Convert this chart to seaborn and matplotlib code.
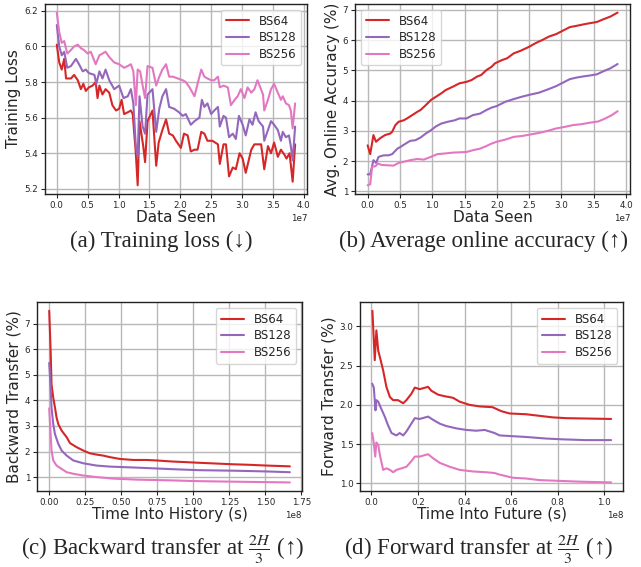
import matplotlib
matplotlib.use("Agg")
import matplotlib.pyplot as plt
from matplotlib.ticker import MultipleLocator
import seaborn as sns
import pandas as pd

# batch sizes and colours
batches = ["BS64", "BS128", "BS256"]
colors = ["#d62728", "#9467bd", "#e377c2"]

# (a) training loss, x in units of 1e7 samples
loss_x_64 = [0.00, 0.04, 0.08, 0.12, 0.15, 0.23, 0.28, 0.34, 0.39, 0.43, 0.47, 0.52, 0.58, 0.63, 0.66,
             0.69, 0.74, 0.79, 0.85, 0.90, 0.96, 1.01, 1.05, 1.09, 1.15, 1.20, 1.23, 1.28, 1.31, 1.34,
             1.40, 1.43, 1.47, 1.55, 1.61, 1.65, 1.71, 1.77, 1.82, 1.88, 1.93, 2.01, 2.06, 2.12, 2.17,
             2.23, 2.28, 2.34, 2.39, 2.44, 2.52, 2.61, 2.64, 2.70, 2.74, 2.79, 2.85, 2.90, 2.96, 3.01,
             3.06, 3.15, 3.20, 3.25, 3.31, 3.36, 3.42, 3.47, 3.52, 3.58, 3.63, 3.69, 3.72, 3.77, 3.82, 3.86]
loss_y_64 = [6.01, 5.91, 5.87, 5.93, 5.82, 5.82, 5.84, 5.81, 5.76, 5.79, 5.75, 5.77, 5.78, 5.80, 5.71,
             5.78, 5.73, 5.76, 5.74, 5.67, 5.64, 5.65, 5.70, 5.62, 5.63, 5.64, 5.62, 5.40, 5.22, 5.58,
             5.44, 5.35, 5.58, 5.64, 5.33, 5.46, 5.53, 5.59, 5.51, 5.50, 5.47, 5.43, 5.51, 5.50, 5.41,
             5.42, 5.42, 5.52, 5.51, 5.47, 5.47, 5.45, 5.34, 5.45, 5.45, 5.27, 5.32, 5.31, 5.40, 5.37,
             5.29, 5.42, 5.45, 5.45, 5.45, 5.31, 5.44, 5.40, 5.46, 5.38, 5.42, 5.39, 5.37, 5.40, 5.24, 5.45]
loss_x_128 = [0.00, 0.04, 0.08, 0.12, 0.17, 0.23, 0.31, 0.36, 0.42, 0.47, 0.52, 0.61, 0.64, 0.69, 0.74,
              0.79, 0.85, 0.93, 1.01, 1.08, 1.15, 1.20, 1.24, 1.28, 1.31, 1.34, 1.39, 1.43, 1.47, 1.55,
              1.61, 1.66, 1.71, 1.77, 1.82, 1.90, 1.98, 2.04, 2.09, 2.17, 2.23, 2.31, 2.35, 2.39, 2.44,
              2.50, 2.55, 2.61, 2.64, 2.70, 2.74, 2.79, 2.85, 2.90, 2.95, 3.01, 3.06, 3.12, 3.17, 3.22,
              3.27, 3.34, 3.36, 3.42, 3.47, 3.52, 3.58, 3.63, 3.66, 3.71, 3.76, 3.79, 3.82, 3.86]
loss_y_128 = [6.12, 6.00, 5.95, 5.97, 5.88, 5.89, 5.93, 5.90, 5.86, 5.87, 5.85, 5.84, 5.79, 5.86, 5.82,
              5.87, 5.81, 5.76, 5.78, 5.71, 5.72, 5.76, 5.68, 5.44, 5.38, 5.72, 5.55, 5.51, 5.73, 5.76,
              5.52, 5.65, 5.72, 5.76, 5.66, 5.65, 5.63, 5.61, 5.62, 5.56, 5.58, 5.60, 5.70, 5.66, 5.68,
              5.62, 5.64, 5.66, 5.55, 5.61, 5.60, 5.49, 5.51, 5.48, 5.61, 5.56, 5.50, 5.59, 5.56, 5.63,
              5.58, 5.55, 5.47, 5.53, 5.58, 5.56, 5.53, 5.47, 5.52, 5.49, 5.50, 5.44, 5.36, 5.55]
loss_x_256 = [0.00, 0.04, 0.08, 0.12, 0.17, 0.23, 0.28, 0.34, 0.39, 0.44, 0.50, 0.55, 0.63, 0.69, 0.74,
              0.79, 0.85, 0.93, 1.01, 1.09, 1.15, 1.20, 1.24, 1.28, 1.31, 1.35, 1.39, 1.43, 1.47, 1.55,
              1.61, 1.66, 1.71, 1.77, 1.82, 1.88, 1.96, 2.04, 2.09, 2.15, 2.23, 2.28, 2.34, 2.39, 2.44,
              2.50, 2.55, 2.61, 2.64, 2.70, 2.77, 2.82, 2.88, 2.93, 2.98, 3.04, 3.09, 3.15, 3.20, 3.25,
              3.34, 3.36, 3.42, 3.47, 3.52, 3.58, 3.63, 3.66, 3.71, 3.76, 3.79, 3.82, 3.86]
loss_y_256 = [6.19, 6.08, 6.02, 6.03, 5.96, 5.98, 6.00, 6.01, 5.99, 5.98, 5.96, 5.97, 5.90, 5.95, 5.96,
              5.97, 5.94, 5.91, 5.90, 5.88, 5.89, 5.90, 5.86, 5.67, 5.87, 5.86, 5.78, 5.71, 5.89, 5.88,
              5.78, 5.83, 5.87, 5.90, 5.83, 5.83, 5.82, 5.81, 5.80, 5.77, 5.72, 5.79, 5.87, 5.83, 5.82,
              5.81, 5.81, 5.83, 5.77, 5.78, 5.77, 5.67, 5.70, 5.72, 5.76, 5.71, 5.77, 5.74, 5.76, 5.81,
              5.73, 5.64, 5.70, 5.76, 5.79, 5.74, 5.70, 5.72, 5.68, 5.67, 5.64, 5.54, 5.68]

# (b) average online accuracy (%), x in units of 1e7
acc_x_64 = [0.00, 0.04, 0.09, 0.13, 0.19, 0.27, 0.35, 0.38, 0.43, 0.48, 0.56, 0.61, 0.69, 0.77, 0.82,
            0.90, 0.98, 1.06, 1.14, 1.21, 1.32, 1.42, 1.53, 1.61, 1.69, 1.76, 1.84, 1.92, 1.97, 2.08,
            2.16, 2.26, 2.37, 2.50, 2.60, 2.71, 2.81, 2.92, 3.02, 3.13, 3.23, 3.34, 3.44, 3.55, 3.65,
            3.76, 3.87]
acc_y_64 = [2.52, 2.23, 2.86, 2.64, 2.75, 2.86, 2.91, 2.97, 3.19, 3.30, 3.35, 3.41, 3.52, 3.63, 3.69,
            3.85, 4.02, 4.13, 4.24, 4.35, 4.46, 4.57, 4.62, 4.68, 4.79, 4.85, 5.01, 5.12, 5.23, 5.34,
            5.40, 5.56, 5.65, 5.78, 5.90, 6.01, 6.12, 6.20, 6.31, 6.43, 6.47, 6.52, 6.56, 6.60, 6.69,
            6.78, 6.91]
acc_x_128 = [0.00, 0.04, 0.09, 0.13, 0.17, 0.25, 0.32, 0.38, 0.46, 0.51, 0.59, 0.66, 0.74, 0.82, 0.90,
             0.98, 1.06, 1.14, 1.24, 1.35, 1.42, 1.53, 1.63, 1.74, 1.84, 1.92, 2.00, 2.13, 2.26, 2.39,
             2.52, 2.65, 2.79, 2.92, 3.02, 3.13, 3.23, 3.34, 3.44, 3.55, 3.65, 3.76, 3.87]
acc_y_128 = [1.56, 1.56, 2.03, 1.94, 2.14, 2.19, 2.19, 2.23, 2.41, 2.47, 2.58, 2.67, 2.69, 2.78, 2.91,
             3.02, 3.15, 3.24, 3.30, 3.35, 3.41, 3.41, 3.52, 3.57, 3.69, 3.77, 3.82, 3.96, 4.05, 4.13,
             4.20, 4.26, 4.37, 4.48, 4.59, 4.71, 4.76, 4.80, 4.83, 4.87, 4.97, 5.07, 5.21]
acc_x_256 = [0.00, 0.04, 0.07, 0.12, 0.16, 0.22, 0.32, 0.40, 0.48, 0.56, 0.66, 0.77, 0.87, 0.98, 1.08,
             1.19, 1.32, 1.42, 1.53, 1.63, 1.74, 1.84, 1.92, 2.00, 2.13, 2.26, 2.39, 2.52, 2.65, 2.79,
             2.92, 3.05, 3.18, 3.31, 3.44, 3.57, 3.68, 3.78, 3.87]
acc_y_256 = [1.20, 1.23, 1.81, 1.83, 1.92, 1.87, 1.86, 1.85, 1.94, 1.98, 2.03, 2.07, 2.05, 2.14, 2.23,
             2.25, 2.28, 2.29, 2.30, 2.36, 2.41, 2.50, 2.58, 2.64, 2.71, 2.80, 2.83, 2.88, 2.93, 3.00,
             3.08, 3.13, 3.19, 3.22, 3.27, 3.31, 3.41, 3.52, 3.65]

# (c) backward transfer (%), x in units of 1e8 s
bwt_x_64 = [0.002, 0.012, 0.018, 0.030, 0.042, 0.053, 0.065, 0.088, 0.123, 0.146, 0.192, 0.238, 0.284,
            0.331, 0.377, 0.423, 0.492, 0.585, 0.677, 0.747, 0.851, 0.93, 1.04, 1.16, 1.28, 1.39, 1.51, 1.67]
bwt_y_64 = [7.51, 5.92, 4.63, 4.11, 3.72, 3.33, 3.07, 2.82, 2.56, 2.33, 2.17, 2.04, 1.93,
            1.88, 1.84, 1.78, 1.71, 1.67, 1.67, 1.65, 1.61, 1.59, 1.56, 1.53, 1.50, 1.48, 1.45, 1.42]
bwt_x_128 = [0.002, 0.012, 0.018, 0.030, 0.042, 0.065, 0.088, 0.123, 0.169, 0.238, 0.331, 0.423, 0.515,
             0.654, 0.851, 1.04, 1.28, 1.51, 1.67]
bwt_y_128 = [5.47, 4.50, 3.72, 3.07, 2.68, 2.30, 2.04, 1.84, 1.65, 1.54, 1.45, 1.41, 1.39,
             1.36, 1.31, 1.27, 1.25, 1.22, 1.19]
bwt_x_256 = [0.002, 0.012, 0.018, 0.030, 0.053, 0.088, 0.123, 0.169, 0.238, 0.331, 0.446, 0.608, 0.851,
             1.04, 1.28, 1.67]
bwt_y_256 = [3.69, 2.68, 2.04, 1.65, 1.45, 1.32, 1.19, 1.13, 1.06, 1.00, 0.94, 0.90, 0.87,
             0.84, 0.82, 0.79]

# (d) forward transfer (%), x in units of 1e8 s
fwt_x_64 = [0.004, 0.014, 0.021, 0.029, 0.036, 0.050, 0.064, 0.079, 0.093, 0.114, 0.136, 0.150, 0.171,
            0.186, 0.207, 0.243, 0.257, 0.286, 0.314, 0.350, 0.379, 0.421, 0.464, 0.520, 0.557, 0.593,
            0.664, 0.721, 0.779, 0.836, 1.029]
fwt_y_64 = [3.20, 2.57, 2.95, 2.69, 2.61, 2.44, 2.23, 2.10, 2.06, 2.06, 2.02, 2.06, 2.14,
            2.22, 2.20, 2.23, 2.18, 2.13, 2.11, 2.09, 2.04, 2.00, 1.98, 1.97, 1.92, 1.89,
            1.88, 1.86, 1.84, 1.83, 1.82]
fwt_x_128 = [0.003, 0.010, 0.017, 0.021, 0.029, 0.039, 0.057, 0.071, 0.086, 0.107, 0.121, 0.136, 0.150,
             0.171, 0.186, 0.207, 0.243, 0.264, 0.293, 0.321, 0.364, 0.407, 0.450, 0.486, 0.529, 0.550,
             0.607, 0.664, 0.750, 0.820, 0.920, 1.029]
fwt_y_128 = [2.27, 2.22, 1.93, 2.06, 2.04, 1.97, 1.85, 1.74, 1.64, 1.61, 1.64, 1.61, 1.66,
             1.76, 1.83, 1.82, 1.85, 1.81, 1.76, 1.73, 1.70, 1.68, 1.67, 1.68, 1.64, 1.61,
             1.60, 1.59, 1.57, 1.56, 1.55, 1.55]
fwt_x_256 = [0.003, 0.010, 0.016, 0.021, 0.029, 0.036, 0.050, 0.064, 0.079, 0.093, 0.107, 0.129, 0.150,
             0.171, 0.186, 0.207, 0.243, 0.264, 0.293, 0.336, 0.379, 0.436, 0.493, 0.529, 0.550, 0.607,
             0.664, 0.721, 0.807, 0.893, 1.029]
fwt_y_256 = [1.64, 1.51, 1.34, 1.52, 1.49, 1.36, 1.17, 1.19, 1.17, 1.14, 1.17, 1.19, 1.21,
             1.28, 1.34, 1.34, 1.37, 1.32, 1.26, 1.21, 1.17, 1.15, 1.14, 1.13, 1.11, 1.07,
             1.06, 1.04, 1.03, 1.02, 1.01]


def make_frame(xs, ys, scale):
    parts = []
    for name, x, y in zip(batches, xs, ys):
        parts.append(pd.DataFrame({"x": [v * scale for v in x], "y": y, "Batch": name}))
    return pd.concat(parts, ignore_index=True)


sns.set_style("ticks")
plt.rcParams["font.family"] = ["DejaVu Sans"]
plt.rcParams["mathtext.fontset"] = "stix"

fig = plt.figure(figsize=(6.41, 5.67), dpi=100)
axes = [
    fig.add_axes([0.070, 0.658, 0.409, 0.335]),
    fig.add_axes([0.554, 0.658, 0.429, 0.335]),
    fig.add_axes([0.058, 0.134, 0.413, 0.333]),
    fig.add_axes([0.562, 0.134, 0.410, 0.333]),
]

panels = [
    (make_frame([loss_x_64, loss_x_128, loss_x_256], [loss_y_64, loss_y_128, loss_y_256], 1e7),
     "Data Seen", "Training Loss", "upper right", 0.5e7),
    (make_frame([acc_x_64, acc_x_128, acc_x_256], [acc_y_64, acc_y_128, acc_y_256], 1e7),
     "Data Seen", "Avg. Online Accuracy (%)", "upper left", 0.5e7),
    (make_frame([bwt_x_64, bwt_x_128, bwt_x_256], [bwt_y_64, bwt_y_128, bwt_y_256], 1e8),
     "Time Into History (s)", "Backward Transfer (%)", "upper right", 0.25e8),
    (make_frame([fwt_x_64, fwt_x_128, fwt_x_256], [fwt_y_64, fwt_y_128, fwt_y_256], 1e8),
     "Time Into Future (s)", "Forward Transfer (%)", "upper right", 0.2e8),
]

for ax, (df, xlabel, ylabel, loc, xstep) in zip(axes, panels):
    sns.lineplot(data=df, x="x", y="y", hue="Batch", hue_order=batches,
                 palette=colors, linewidth=1.5, ax=ax)
    ax.xaxis.set_major_locator(MultipleLocator(xstep))
    ax.grid(True, color="#b8b8b8", linewidth=1.0)
    ax.set_axisbelow(True)
    for s in ax.spines.values():
        s.set_color("#222222")
        s.set_linewidth(1.0)
    ax.tick_params(labelsize=6.3, length=3, width=0.8, pad=2)
    ax.xaxis.get_offset_text().set_fontsize(6.3)
    ax.set_xlabel(xlabel, fontsize=11, labelpad=0)
    ax.set_ylabel(ylabel, fontsize=11, labelpad=2)
    sns.move_legend(ax, loc, title=None, fontsize=8.5, frameon=True,
                    handlelength=2.0, borderpad=0.4, labelspacing=0.3)

cap = dict(fontsize=16.5, family=["Liberation Serif", "DejaVu Serif"], ha="center", va="baseline")
up = " (\u2191)"
fig.text(0.251, 0.565, "(a) Training loss (\u2193)", **cap)
fig.text(0.754, 0.565, "(b) Average online accuracy" + up, **cap)
fig.text(0.2535, 0.022, "(c) Backward transfer at $\\frac{2H}{3}$" + up, **cap)
fig.text(0.746, 0.022, "(d) Forward transfer at $\\frac{2H}{3}$" + up, **cap)

fig.savefig("out.png", dpi=100)
